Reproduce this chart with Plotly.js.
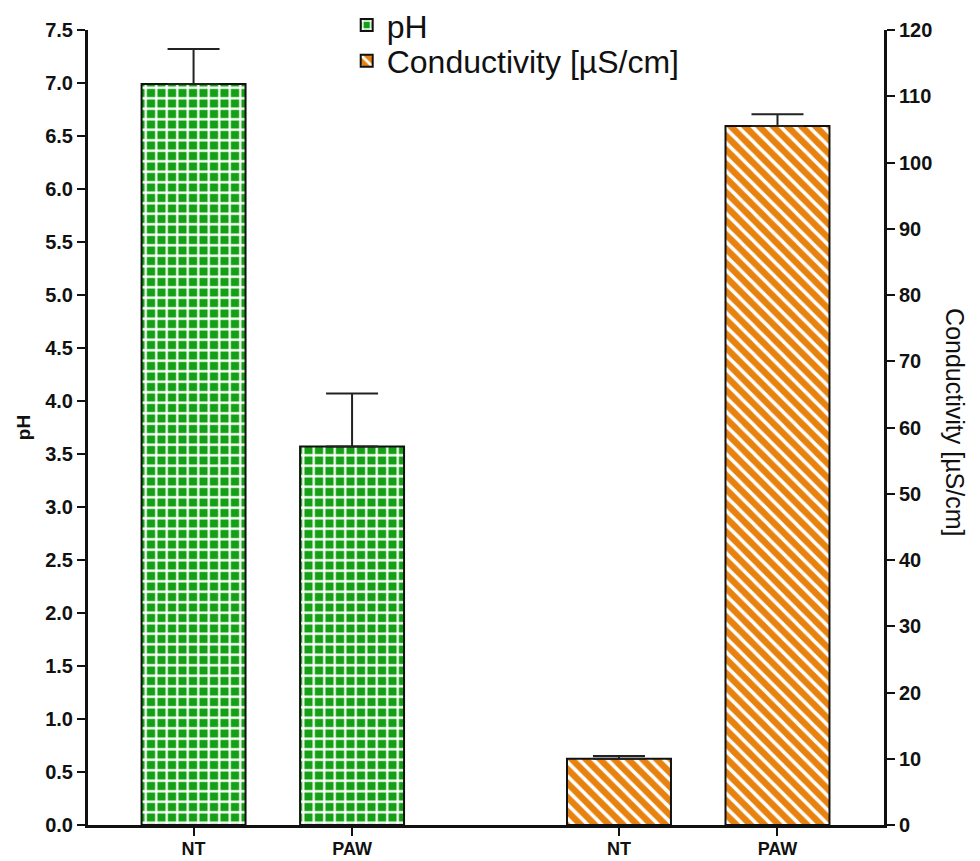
<!DOCTYPE html>
<html>
<head>
<meta charset="utf-8">
<script src="https://cdn.plot.ly/plotly-3.0.1.min.js"></script>
<style>html,body{margin:0;padding:0;background:#fff;}#chart{width:980px;height:861px;}</style>
</head>
<body>
<div id="chart"></div>
<script>
// Data
const categories = ["NT", "PAW"];
const phValues = [6.99, 3.57];
const phErrors = [0.33, 0.50];
const condValues = [10.0, 105.5];
const condErrors = [0.4, 1.8];
const phTicks = [0, 0.5, 1, 1.5, 2, 2.5, 3, 3.5, 4, 4.5, 5, 5.5, 6, 6.5, 7, 7.5];
const condTicks = [0, 10, 20, 30, 40, 50, 60, 70, 80, 90, 100, 110, 120];

const green = "#14a014";
const orange = "#e8820e";
const fam = "Arial, Liberation Sans, sans-serif";
const tickFont = {family: fam, size: 20, color: "#111", weight: "bold"};
const xTickFont = {family: fam, size: 18, color: "#111", weight: "bold"};
const legFont = {family: fam, size: 32, color: "#111"};

const traces = [
  {
    type: "bar", name: "pH", x: categories, y: phValues,
    xaxis: "x", yaxis: "y", width: 0.656, legend: "legend",
    marker: {
      color: green,
      line: {color: "#111", width: 2},
      pattern: {shape: "+", fillmode: "replace", bgcolor: green, fgcolor: "#ffffff", size: 10.5, solidity: 0.38}
    },
    error_y: {type: "data", symmetric: false, array: phErrors, arrayminus: [0, 0], color: "#222", thickness: 2, width: 26}
  },
  {
    type: "bar", name: "Conductivity [µS/cm]", x: categories, y: condValues,
    xaxis: "x2", yaxis: "y2", width: 0.656, legend: "legend2",
    marker: {
      color: orange,
      line: {color: "#111", width: 2},
      pattern: {shape: "\\", fillmode: "replace", bgcolor: orange, fgcolor: "#ffffff", size: 10, solidity: 0.35}
    },
    error_y: {type: "data", symmetric: false, array: condErrors, arrayminus: [0, 0], color: "#222", thickness: 2, width: 26}
  }
];

const axisCommon = {
  showline: true, linecolor: "#111", linewidth: 3,
  ticks: "outside", ticklen: 8, tickwidth: 2, tickcolor: "#111",
  tickfont: tickFont, showgrid: false, zeroline: false, fixedrange: true
};

const layout = {
  width: 980, height: 861,
  margin: {l: 88, r: 96, t: 30, b: 36, autoexpand: false},
  paper_bgcolor: "#fff", plot_bgcolor: "#fff",
  showlegend: true,
  legend: {
    x: 0.325, y: 1.006, xanchor: "left", yanchor: "middle",
    font: legFont, bgcolor: "rgba(0,0,0,0)"
  },
  legend2: {
    x: 0.325, y: 0.961, xanchor: "left", yanchor: "middle",
    font: legFont, bgcolor: "rgba(0,0,0,0)"
  },
  xaxis: Object.assign({}, axisCommon, {domain: [0, 0.5], type: "category", range: [-0.666, 1.845], anchor: "y", tickfont: xTickFont, ticklabelstandoff: -3}),
  xaxis2: Object.assign({}, axisCommon, {domain: [0.5, 1], type: "category", range: [-0.839, 1.672], anchor: "y2", tickfont: xTickFont, ticklabelstandoff: -3}),
  yaxis: Object.assign({}, axisCommon, {
    range: [0, 7.5], tickvals: phTicks, tickformat: ".1f", anchor: "x",
    title: {text: "pH", font: {family: fam, size: 19, color: "#111", weight: "bold"}, standoff: 10}
  }),
  yaxis2: Object.assign({}, axisCommon, {
    range: [0, 120], tickvals: condTicks, side: "right", anchor: "x2"
  }),
  annotations: [{
    text: "Conductivity [µS/cm]", textangle: 90, showarrow: false,
    xref: "paper", yref: "paper", x: 1.089, y: 0.507, xanchor: "center", yanchor: "middle",
    font: {family: fam, size: 25, color: "#111"}
  }]
};

Plotly.newPlot("chart", traces, layout, {displayModeBar: false, staticPlot: true});
</script>
</body>
</html>
